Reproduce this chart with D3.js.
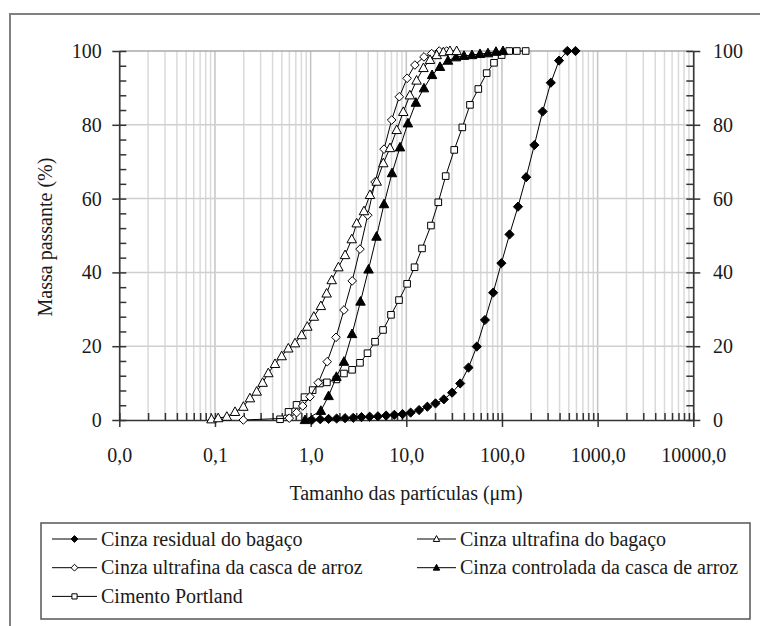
<!DOCTYPE html>
<html>
<head>
<meta charset="utf-8">
<script src="https://cdn.jsdelivr.net/npm/d3@7"></script>
<style>
    body { margin: 0; background: #fff; }
    svg text { font-family: "Liberation Serif", "Times New Roman", serif; fill: #1a1a1a; }
</style>
</head>
<body>
<script>
// particle size (um) and cumulative passing (%)
const residualSize = [1.03, 1.26, 1.54, 1.87, 2.29, 2.79, 3.40, 4.14, 5.05, 6.16, 7.50, 9.15, 11.1, 13.6, 16.6, 20.2, 24.7, 30.1, 36.6, 44.7, 54.5, 66.4, 80.9, 98.6, 120, 147, 179, 218, 266, 324, 395, 482, 587];
const residualPass = [0, 0.2, 0.3, 0.4, 0.5, 0.6, 0.8, 0.9, 1.0, 1.2, 1.4, 1.6, 2.0, 2.7, 3.6, 4.5, 5.6, 7.4, 9.9, 14.2, 19.9, 27.1, 34.5, 42.5, 50.3, 57.8, 65.8, 74.5, 83.6, 91.4, 97.4, 100, 100];

const bagacoUltraSize = [0.092, 0.108, 0.133, 0.162, 0.198, 0.232, 0.273, 0.315, 0.361, 0.424, 0.498, 0.584, 0.686, 0.806, 0.923, 1.08, 1.28, 1.47, 1.66, 1.95, 2.29, 2.69, 3.03, 3.61, 4.17, 4.90, 5.75, 6.75, 7.94, 9.30, 10.9, 12.8, 15.1, 17.7, 20.8, 24.4, 28.6, 33.6];
const bagacoUltraPass = [0.2, 0.5, 0.9, 2.2, 3.6, 5.9, 7.7, 10.1, 12.7, 15.2, 17.3, 19.4, 20.8, 23.0, 25.3, 28.0, 30.9, 34.3, 37.9, 41.4, 44.7, 49.0, 53.3, 56.6, 61.0, 64.6, 69.6, 73.7, 78.6, 83.5, 88.0, 92.0, 95.4, 97.6, 98.9, 99.7, 100, 100];

const arrozUltraSize = [0.198, 0.598, 0.714, 0.826, 0.984, 1.20, 1.49, 1.84, 2.23, 2.72, 3.28, 3.95, 4.71, 5.85, 7.03, 8.45, 10.2, 12.3, 15.3, 18.4, 22.1, 26.4];
const arrozUltraPass = [0, 0.5, 2.0, 3.8, 6.3, 10.1, 15.8, 22.4, 29.8, 37.7, 46.3, 55.5, 64.5, 73.4, 81.3, 87.6, 92.6, 96.2, 98.4, 99.3, 100, 100];

const arrozControlSize = [0.873, 1.28, 1.54, 1.86, 2.23, 2.71, 3.32, 4.03, 4.88, 5.85, 7.09, 8.59, 10.4, 12.6, 15.3, 18.6, 22.5, 27.3, 33.1, 40.1, 48.6, 58.9, 71.4, 86.6, 102.5];
const arrozControlPass = [0, 2.5, 6.5, 11.7, 15.8, 23.3, 32.1, 40.8, 49.7, 58.5, 66.9, 73.9, 80.4, 86, 89.9, 93.5, 95.7, 97.4, 98.3, 98.7, 98.9, 99.2, 99.4, 99.8, 100];

const portlandSize = [0.479, 0.587, 0.712, 0.863, 1.05, 1.25, 1.48, 1.86, 2.23, 2.71, 3.28, 3.93, 4.71, 5.71, 6.92, 8.39, 10.2, 12.2, 14.6, 18.1, 21.6, 25.8, 31.7, 38.5, 46.3, 56.6, 69.2, 82.5, 99.3, 119, 143, 177];
const portlandPass = [0.2, 2.2, 4.1, 6.2, 8.1, 9.9, 10.2, 11.0, 12.6, 13.6, 15.5, 18.1, 21.2, 24.4, 28.5, 32.5, 36.9, 41.4, 46.5, 52.7, 59.0, 66.1, 73.2, 79.3, 85.4, 89.7, 94.0, 96.8, 98.9, 100, 100, 100];

const xTicks = [0.01, 0.1, 1, 10, 100, 1000, 10000];
const yTicks = [0, 20, 40, 60, 80, 100];

const seriesNames = [
    "Cinza residual do bagaço",
    "Cinza ultrafina do bagaço",
    "Cinza ultrafina da casca de arroz",
    "Cinza controlada da casca de arroz",
    "Cimento Portland",
];

const width = 760;
const height = 626;
const font = 20;

const svg = d3
    .select("body")
    .append("svg")
    .attr("width", width)
    .attr("height", height);

const x = d3.scaleLog().domain([0.01, 10000]).range([119.3, 693.3]);
const y = d3.scaleLinear().domain([0, 100]).range([420, 51]);

// minor log positions 2..9 inside each decade
const xMinor = [];
xTicks.slice(0, -1).forEach((d) => {
    for (let m = 2; m <= 9; m++) xMinor.push(d * m);
});
const yMinor = d3.range(0, 101, 4);

// outer frame of the figure
svg.append("rect")
    .attr("x", 10)
    .attr("y", 14)
    .attr("width", 800)
    .attr("height", 700)
    .attr("fill", "none")
    .attr("stroke", "#808080")
    .attr("stroke-width", 2);

/////// grid ///////
const grid = svg.append("g");
grid.selectAll(".vminor")
    .data(xMinor)
    .enter()
    .append("line")
    .attr("x1", (d) => x(d))
    .attr("x2", (d) => x(d))
    .attr("y1", y(100))
    .attr("y2", y(0))
    .attr("stroke", "#dadada")
    .attr("stroke-width", 1.5);
grid.selectAll(".vmajor")
    .data(xTicks)
    .enter()
    .append("line")
    .attr("x1", (d) => x(d))
    .attr("x2", (d) => x(d))
    .attr("y1", y(100))
    .attr("y2", y(0))
    .attr("stroke", "#c4c4c4")
    .attr("stroke-width", 1.5);
grid.selectAll(".hmajor")
    .data(yTicks.slice(1))
    .enter()
    .append("line")
    .attr("x1", x(0.01))
    .attr("x2", x(10000))
    .attr("y1", (d) => y(d))
    .attr("y2", (d) => y(d))
    .attr("stroke", (d) => (d === 100 ? "#a8a8a8" : "#cfcfcf"))
    .attr("stroke-width", 1.5);

/////// axes ///////
const fmt = (d) => d3.format(".1f")(d).replace(".", ",");

function styleAxis(g) {
    g.attr("font-family", null).attr("font-size", font);
    g.selectAll("path, line").attr("stroke", "#333").attr("stroke-width", 1.5);
    g.selectAll("text").attr("fill", "#1a1a1a");
}

svg.append("g")
    .attr("transform", `translate(0,${y(0)})`)
    .call(d3.axisBottom(x).tickValues(xTicks).tickFormat(fmt).tickSize(7).tickSizeOuter(0).tickPadding(21))
    .call(styleAxis);
svg.append("g")
    .attr("transform", `translate(0,${y(0)})`)
    .call(d3.axisTop(x).tickValues(xTicks.concat(xMinor)).tickFormat("").tickSize(7))
    .call((g) => g.select(".domain").remove())
    .call(styleAxis);

svg.append("g")
    .attr("transform", `translate(${x(0.01)},0)`)
    .call(d3.axisLeft(y).tickValues(yTicks).tickSize(7).tickSizeOuter(0).tickPadding(10.6))
    .call(styleAxis);
svg.append("g")
    .attr("transform", `translate(${x(0.01)},0)`)
    .call(d3.axisRight(y).tickValues(yMinor).tickFormat("").tickSize(7))
    .call((g) => g.select(".domain").remove())
    .call(styleAxis);

svg.append("g")
    .attr("transform", `translate(${x(10000)},0)`)
    .call(d3.axisRight(y).tickValues(yTicks).tickSize(7).tickSizeOuter(0).tickPadding(12.7))
    .call(styleAxis);
svg.append("g")
    .attr("transform", `translate(${x(10000)},0)`)
    .call(d3.axisLeft(y).tickValues(yMinor).tickFormat("").tickSize(7))
    .call((g) => g.select(".domain").remove())
    .call(styleAxis);

svg.append("text")
    .attr("x", 406)
    .attr("y", 500)
    .attr("text-anchor", "middle")
    .attr("font-size", font)
    .text("Tamanho das partículas (μm)");

svg.append("text")
    .attr("transform", "translate(52,237) rotate(-90)")
    .attr("text-anchor", "middle")
    .attr("font-size", font)
    .text("Massa passante (%)");

/////// markers ///////
function markerPath(type, r) {
    if (type === "diamond") return `M0,${-r}L${r},0L0,${r}L${-r},0Z`;
    if (type === "square") return `M${-r},${-r}H${r}V${r}H${-r}Z`;
    return `M0,${-r}L${r * 0.95},${r * 0.72}L${-r * 0.95},${r * 0.72}Z`;
}

const series = [
    { name: seriesNames[4], size: portlandSize, pass: portlandPass, type: "square", filled: false, r: 3.3 },
    { name: seriesNames[3], size: arrozControlSize, pass: arrozControlPass, type: "triangle", filled: true, r: 5 },
    { name: seriesNames[2], size: arrozUltraSize, pass: arrozUltraPass, type: "diamond", filled: false, r: 4.3 },
    { name: seriesNames[1], size: bagacoUltraSize, pass: bagacoUltraPass, type: "triangle", filled: false, r: 5 },
    { name: seriesNames[0], size: residualSize, pass: residualPass, type: "diamond", filled: true, r: 4.6 },
];

const line = d3
    .line()
    .x((d) => x(d[0]))
    .y((d) => y(d[1]));

series.forEach((s) => {
    const pts = s.size.map((v, i) => [v, s.pass[i]]);
    const g = svg.append("g");
    g.append("path")
        .datum(pts)
        .attr("d", line)
        .attr("fill", "none")
        .attr("stroke", "#000")
        .attr("stroke-width", 1);
    g.selectAll("path.mk")
        .data(pts)
        .enter()
        .append("path")
        .attr("class", "mk")
        .attr("d", markerPath(s.type, s.r))
        .attr("transform", (d) => `translate(${x(d[0])},${y(d[1])})`)
        .attr("fill", s.filled ? "#000" : "#fff")
        .attr("stroke", "#000")
        .attr("stroke-width", 1);
});

/////// legend ///////
const legend = svg.append("g");
legend.append("rect")
    .attr("x", 41)
    .attr("y", 523)
    .attr("width", 709)
    .attr("height", 96)
    .attr("fill", "#fff")
    .attr("stroke", "#555")
    .attr("stroke-width", 1.5);

const legendItems = [
    { s: series[4], col: 0, row: 0 },
    { s: series[3], col: 1, row: 0 },
    { s: series[2], col: 0, row: 1 },
    { s: series[1], col: 1, row: 1 },
    { s: series[0], col: 0, row: 2 },
];
const colX = [52, 417];
const colW = [45, 39];

legendItems.forEach((d) => {
    const x0 = colX[d.col];
    const w = colW[d.col];
    const yy = 539 + d.row * 28.7;
    const item = legend.append("g");
    item.append("line")
        .attr("x1", x0)
        .attr("x2", x0 + w)
        .attr("y1", yy)
        .attr("y2", yy)
        .attr("stroke", "#000")
        .attr("stroke-width", 1);
    item.append("path")
        .attr("d", markerPath(d.s.type, d.s.type === "square" ? 2.6 : 3.4))
        .attr("transform", `translate(${x0 + w / 2},${yy})`)
        .attr("fill", d.s.filled ? "#000" : "#fff")
        .attr("stroke", "#000")
        .attr("stroke-width", 1);
    item.append("text")
        .attr("x", x0 + w + 4)
        .attr("y", yy)
        .attr("dy", "0.33em")
        .attr("font-size", font)
        .text(d.s.name);
});
</script>
</body>
</html>
